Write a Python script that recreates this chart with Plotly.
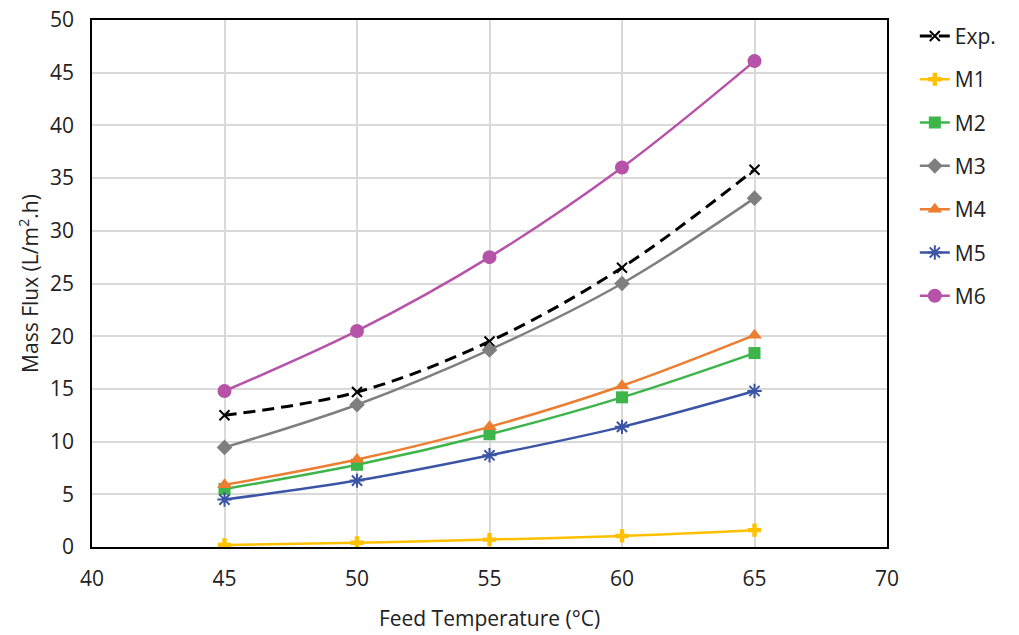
import plotly.graph_objects as go

temps = [45, 50, 55, 60, 65]
exp_vals = [12.5, 14.7, 19.5, 26.5, 35.8]
m1_vals = [0.2, 0.4, 0.7, 1.05, 1.6]
m2_vals = [5.5, 7.8, 10.7, 14.2, 18.4]
m3_vals = [9.45, 13.5, 18.7, 25.0, 33.1]
m4_vals = [5.9, 8.3, 11.4, 15.3, 20.1]
m5_vals = [4.5, 6.3, 8.7, 11.4, 14.8]
m6_vals = [14.8, 20.5, 27.5, 36.0, 46.1]

series = [
    ("Exp.", exp_vals, "black", "x-thin", 10, "dash"),
    ("M1", m1_vals, "#FFC000", "cross", 11, "solid"),
    ("M2", m2_vals, "#3DB54A", "square", 12, "solid"),
    ("M3", m3_vals, "#7F7F7F", "diamond", 12, "solid"),
    ("M4", m4_vals, "#ED7D31", "triangle-up", 13, "solid"),
    ("M5", m5_vals, "#3B54A5", "asterisk-open", 12, "solid"),
    ("M6", m6_vals, "#B652A8", "circle", 14, "solid"),
]

fig = go.Figure()
for i, (name, vals, color, sym, size, dash) in enumerate(series):
    mk = dict(symbol=sym, size=size, color=color)
    if sym in ("x-thin", "asterisk-open"):
        mk["line"] = dict(color=color, width=2)
    fig.add_trace(go.Scatter(
        x=temps, y=vals, name=name, mode="lines+markers",
        line=dict(color=color, width=3 if dash == "dash" else 2.5,
                  dash="12px,7px" if dash == "dash" else "solid", shape="spline"),
        marker=mk, legendgroup=name,
    ))

font_family = "Open Sans, Noto Sans, sans-serif"
fig.update_layout(
    width=1019, height=635,
    margin=dict(l=92, r=132, t=20, b=88),
    paper_bgcolor="white", plot_bgcolor="white",
    font=dict(family=font_family, size=21, color="#222"),
    legend=dict(x=1.035, y=1.008, xanchor="left", yanchor="top",
                font=dict(size=21, color="#222"), tracegroupgap=13,
                bgcolor="rgba(0,0,0,0)"),
    showlegend=True,
)
fig.update_xaxes(
    range=[40, 70], tickvals=[40, 45, 50, 55, 60, 65, 70],
    showgrid=True, gridcolor="#D9D9D9", gridwidth=1.5,
    showline=True, linecolor="black", linewidth=1.5, mirror=True,
    ticks="", zeroline=False, ticklabelstandoff=12, automargin=False,
    title=dict(text="Feed Temperature (°C)", font=dict(size=21), standoff=20),
    tickfont=dict(size=21),
)
fig.update_yaxes(
    range=[0, 50], tickvals=list(range(0, 51, 5)),
    showgrid=True, gridcolor="#D9D9D9", gridwidth=1.5,
    showline=True, linecolor="black", linewidth=1.5, mirror=True,
    ticks="", zeroline=False, ticklabelstandoff=12, automargin=False,
    title=dict(text="Mass Flux (L/m<sup>2</sup>.h)", font=dict(size=21), standoff=6),
    tickfont=dict(size=21),
)
fig.write_html("out.html")
